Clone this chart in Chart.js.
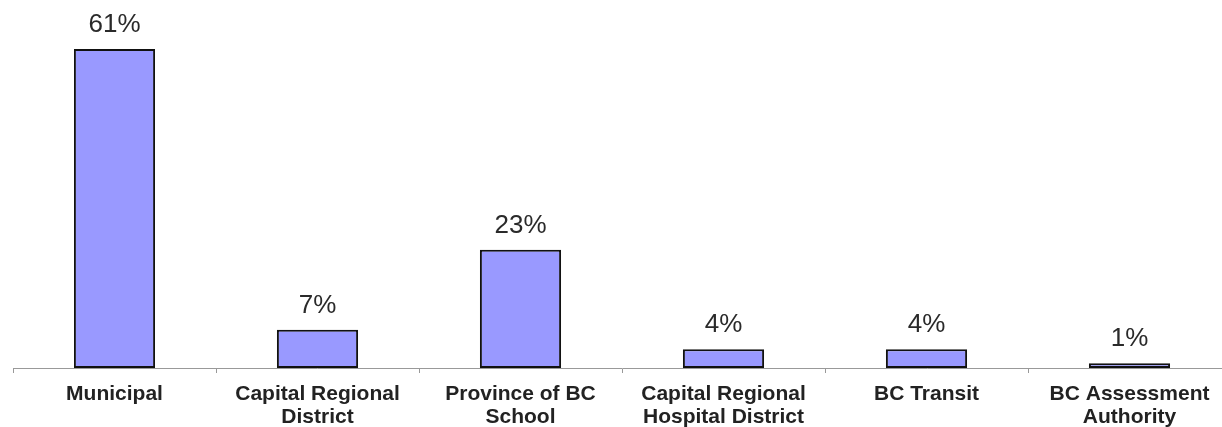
<!DOCTYPE html>
<html>
<head>
<meta charset="utf-8">
<script src="https://cdn.jsdelivr.net/npm/chart.js@4"></script>
<style>
  html, body { margin: 0; padding: 0; background: #fff; overflow: hidden; }
  #wrap { width: 1240px; height: 427px; position: relative; }
</style>
</head>
<body>
<div id="wrap"><canvas id="taxShare"></canvas></div>
<script>
// data
const categories = [
  ["Municipal"],
  ["Capital Regional", "District"],
  ["Province of BC", "School"],
  ["Capital Regional", "Hospital District"],
  ["BC Transit"],
  ["BC Assessment", "Authority"],
];
const shareValues = [61, 7.3, 22.6, 3.6, 3.6, 0.9];
const shareLabels = ["61%", "7%", "23%", "4%", "4%", "1%"];

// draws the percent text above each bar
const valueLabels = {
  id: "valueLabels",
  afterDatasetsDraw(chart) {
    const { ctx } = chart;
    const meta = chart.getDatasetMeta(0);
    ctx.save();
    ctx.font = "26px 'Liberation Sans', Arial, sans-serif";
    ctx.fillStyle = "#2a2a2a";
    ctx.textAlign = "center";
    ctx.textBaseline = "alphabetic";
    meta.data.forEach((bar, i) => {
      ctx.fillText(shareLabels[i], bar.x, bar.y - 17);
    });
    ctx.restore();
  },
};

const ctx = document.getElementById("taxShare").getContext("2d");

new Chart(ctx, {
  type: "bar",
  data: {
    labels: categories,
    datasets: [
      {
        data: shareValues,
        backgroundColor: "#9999ff",
        borderColor: "#111",
        borderWidth: 2,
        borderSkipped: false,
        barPercentage: 0.4,
        categoryPercentage: 1,
      },
    ],
  },
  options: {
    responsive: true,
    maintainAspectRatio: false,
    animation: false,
    layout: { padding: { left: 13, right: 9, top: 2, bottom: 0 } },
    scales: {
      y: {
        display: false,
        min: 0,
        max: 70,
      },
      x: {
        offset: true,
        border: { display: true, color: "#999", width: 1 },
        grid: {
          offset: true,
          drawOnChartArea: false,
          drawTicks: true,
          tickLength: 5,
          color: "#999",
        },
        ticks: {
          color: "#222",
          padding: 10,
          maxRotation: 0,
          autoSkip: false,
          font: { family: "'Liberation Sans', Arial, sans-serif", size: 21, weight: "bold", lineHeight: 1.08 },
        },
        afterFit(scale) {
          scale.height = 59;
        },
      },
    },
    plugins: {
      legend: { display: false },
      tooltip: { enabled: false },
    },
  },
  plugins: [valueLabels],
});
</script>
</body>
</html>
